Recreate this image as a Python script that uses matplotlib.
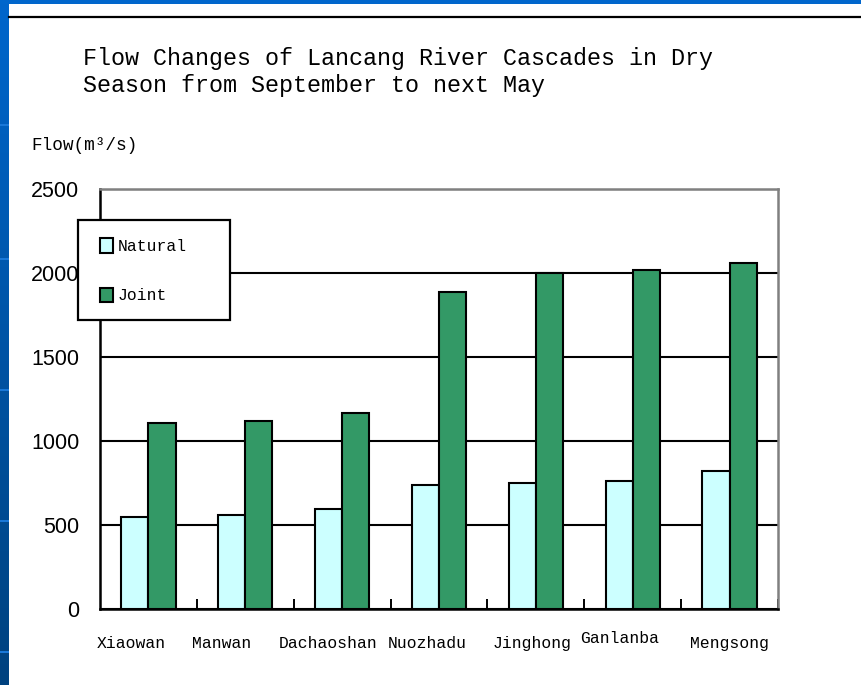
import numpy as np
import matplotlib
matplotlib.use("Agg")
import matplotlib.pyplot as plt
from matplotlib.patches import Rectangle
from matplotlib.lines import Line2D
from matplotlib.colors import LinearSegmentedColormap
from matplotlib.transforms import blended_transform_factory

# data
stations = ["Xiaowan", "Manwan", "Dachaoshan", "Nuozhadu", "Jinghong", "Ganlanba", "Mengsong"]
natural = [548, 560, 595, 740, 752, 764, 822]
joint = [1107, 1119, 1167, 1885, 2000, 2015, 2062]
y_ticks = [0, 500, 1000, 1500, 2000, 2500]

MONO = ["Liberation Mono", "DejaVu Sans Mono"]
SANS = ["Liberation Sans", "DejaVu Sans"]
W, H = 862, 685

# label nudges so the x labels sit like in the source slide
label_shift = [-0.18, -0.24, -0.14, -0.12, -0.04, -0.14, 0.0]
label_y = [-0.081, -0.081, -0.081, -0.081, -0.081, -0.070, -0.081]

fig = plt.figure(figsize=(W / 100, H / 100), dpi=100)
fig.patch.set_facecolor("white")


def fx(px):
    return px / W


def fy(py):
    return 1 - py / H


# slide decoration: blue band on left, blue strip on top, black rule
band = fig.add_axes([0, 0, fx(9), 1])
band.imshow(np.linspace(0, 1, 256).reshape(-1, 1), aspect="auto",
            cmap=LinearSegmentedColormap.from_list("b", ["#0066cc", "#00427f"]))
band.axis("off")
for py in [124, 258, 389, 520, 651]:
    fig.add_artist(Rectangle((0, fy(py + 2)), fx(9), 2 / H, color="#1a78d8", lw=0))
fig.add_artist(Rectangle((0, fy(4)), 1, 4 / H, color="#0066cc", lw=0))
fig.add_artist(Line2D([fx(9), 1], [fy(17), fy(17)], color="black", lw=1.6))

# title and unit label
fig.text(fx(83), fy(65), "Flow Changes of Lancang River Cascades in Dry",
         family=MONO, fontsize=16.8, va="baseline")
fig.text(fx(83), fy(92), "Season from September to next May",
         family=MONO, fontsize=16.8, va="baseline")
fig.text(fx(31), fy(150), "Flow(m³/s)", family=MONO, fontsize=12.8, va="baseline")

ax = fig.add_axes([fx(100), fy(609), fx(778) - fx(100), (609 - 189) / H])
x = np.arange(len(stations))
w = 0.28
ax.bar(x - w / 2, natural, w, color="#ccffff", edgecolor="black", linewidth=1.5,
       label="Natural", zorder=3)
ax.bar(x + w / 2, joint, w, color="#339966", edgecolor="black", linewidth=1.5,
       label="Joint", zorder=3)

ax.set_xlim(-0.5, len(stations) - 0.5)
ax.set_ylim(0, 2500)
ax.set_yticks(y_ticks)
ax.set_yticklabels([str(v) for v in y_ticks], family=SANS, fontsize=15.5)
ax.tick_params(axis="y", length=0, pad=15)

# small inward ticks between the station groups
ax.set_xticks(list(x[1:] - 0.5) + [len(stations) - 0.5])
ax.set_xticklabels([])
ax.tick_params(axis="x", direction="in", length=7, width=1.4)

trans = blended_transform_factory(ax.transData, ax.transAxes)
for i, name in enumerate(stations):
    ax.text(i + label_shift[i], label_y[i], name, transform=trans, ha="center",
            va="center", family=MONO, fontsize=11.8)

ax.grid(axis="y", color="black", linewidth=1.5)
ax.set_axisbelow(True)
for side in ["left", "bottom"]:
    ax.spines[side].set_color("black")
    ax.spines[side].set_linewidth(1.8)
for side in ["top", "right"]:
    ax.spines[side].set_color("#808080")
    ax.spines[side].set_linewidth(1.8)

# legend box drawn on its own, legend entries laid on top of it
box = Rectangle((fx(78), fy(320)), fx(230) - fx(78), 100 / H, transform=fig.transFigure,
                facecolor="white", edgecolor="black", linewidth=1.6, zorder=4)
fig.add_artist(box)
handles, labels = ax.get_legend_handles_labels()
leg = fig.legend(handles, labels, loc="upper left", bbox_to_anchor=(fx(100), fy(238)),
                 bbox_transform=fig.transFigure, frameon=False, borderpad=0,
                 borderaxespad=0, handlelength=0.8, handleheight=1.0,
                 handletextpad=0.3, labelspacing=2.05,
                 prop={"family": MONO, "size": 11.8})
leg.set_zorder(5)

fig.savefig("out.png", dpi=100)
